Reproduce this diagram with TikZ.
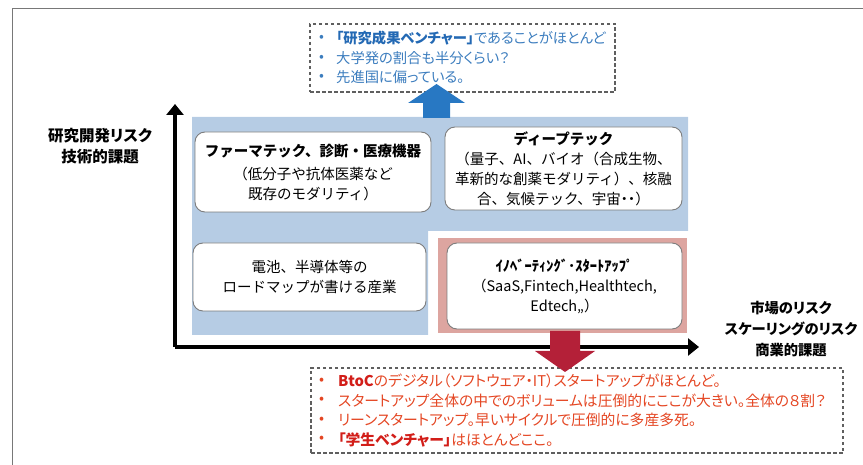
\documentclass[tikz,border=0pt]{standalone}
\usepackage{fontspec}
\setmainfont{Noto Sans CJK JP}
\newfontfamily\pfont[RawFeature=+palt]{Noto Sans CJK JP}
\usetikzlibrary{arrows.meta}
\definecolor{framegray}{RGB}{120,120,120}
\definecolor{boxgray}{RGB}{125,125,125}
\definecolor{dashgray}{RGB}{95,95,95}
\definecolor{bluearea}{RGB}{182,204,228}
\definecolor{pinkarea}{RGB}{221,165,160}
\definecolor{bluetxt}{RGB}{60,125,190}
\definecolor{bluebold}{RGB}{35,105,180}
\definecolor{redtxt}{RGB}{228,70,35}
\definecolor{redbold}{RGB}{210,30,25}
\definecolor{bluearrow}{RGB}{40,120,195}
\definecolor{redarrow}{RGB}{180,32,56}
\tikzset{
  rbox/.style={draw=boxgray, line width=0.9pt, fill=white, rounded corners=10pt,
    align=center, inner sep=0pt, font=\fontsize{14.5}{20}\selectfont},
  dbox/.style={draw=dashgray, line width=1.3pt, dash pattern=on 3.5pt off 2.5pt, inner sep=0pt},
  btxt/.style={anchor=west, text=bluetxt, inner sep=0pt, font=\pfont\fontsize{14.3}{17}\selectfont},
  rtxt/.style={anchor=west, text=redtxt, inner sep=0pt, font=\pfont\fontsize{14.8}{17}\selectfont},
  axis/.style={line width=4.5pt, -{Triangle[length=11pt,width=17pt]}},
  axlabel/.style={align=center, inner sep=0pt, font=\pfont\bfseries\fontsize{15.5}{21}\selectfont},
  axlabelr/.style={align=center, inner sep=0pt, font=\pfont\bfseries\fontsize{14.3}{21}\selectfont},
}
\begin{document}
\begin{tikzpicture}[x=1pt,y=-1pt]
\useasboundingbox (0,0) rectangle (863,465);
% frame
\draw[framegray, line width=1pt] (12,465) -- (12,9) -- (863,9);
% background areas
\fill[bluearea] (192,117) -- (688,117) -- (688,231) -- (428,231) -- (428,335) -- (192,335) -- cycle;
\fill[pinkarea] (438,238) rectangle (687,333);
% boxes
\node[rbox, minimum width=236pt, minimum height=80pt] (pharma) at (313,172)
  {{\bfseries ファーマテック、診断・医療機器}\\[3pt]（低分子や抗体医薬など\\既存のモダリティ）};
\node[rbox, minimum width=237pt, minimum height=83pt] (deep) at (563.5,168.5)
  {{\bfseries ディープテック}\\（量子、AI、バイオ（合成生物、\\革新的な創薬モダリティ）、核融\\合、気候テック、宇宙{\pfont ・・}）};
\node[rbox, minimum width=233pt, minimum height=68pt] (battery) at (309.5,277)
  {電池、半導体等の\\ロードマップが書ける産業};
\node[rbox, minimum width=235pt, minimum height=86pt] (innov) at (564.5,286)
  {{\bfseries ｲﾉﾍﾞｰﾃｨﾝｸﾞ･ｽﾀｰﾄｱｯﾌﾟ}\\（SaaS,Fintech,Healthtech,\\Edtech,,）};
% axes
\coordinate (O) at (175,347);
\coordinate (ytip) at (175,104);
\coordinate (xtip) at (699,347);
\draw[axis] (O) -- (ytip);
\draw[axis] (O) -- (xtip);
% axis labels
\node[axlabel] (ylab) at (100,146.5) {研究開発リスク\\技術的課題};
\node[axlabelr] (xlab) at (791,329) {市場のリスク\\スケーリングのリスク\\商業的課題};
% top dashed box
\node[dbox, minimum width=305pt, minimum height=68pt] (topbox) at (462.5,58) {};
\node[btxt] (t1b) at (319,38) {•};
\node[btxt] (t1) at (336,38) {{\bfseries\color{bluebold}「研究成果ベンチャー」}であることがほとんど};
\node[btxt] (t2b) at (319,58) {•};
\node[btxt] (t2) at (336,58) {大学発の割合も半分くらい？};
\node[btxt] (t3b) at (319,77) {•};
\node[btxt] (t3) at (336,77) {先進国に偏っている。};
% bottom dashed box
\node[dbox, minimum width=532pt, minimum height=85pt] (botbox) at (577,410.5) {};
\node[rtxt] (b1b) at (319,381) {•};
\node[rtxt] (b1) at (338,381) {{\bfseries\color{redbold}BtoC}のデジタル（ソフトウェア・IT）スタートアップがほとんど。};
\node[rtxt] (b2b) at (319,400.5) {•};
\node[rtxt] (b2) at (338,400.5) {スタートアップ全体の中でのボリュームは圧倒的にここが大きい。全体の８割？};
\node[rtxt] (b3b) at (319,420) {•};
\node[rtxt] (b3) at (338,420) {リーンスタートアップ。早いサイクルで圧倒的に多産多死。};
\node[rtxt] (b4b) at (319,439.5) {•};
\node[rtxt] (b4) at (338,439.5) {{\bfseries\color{redbold}「学生ベンチャー」}はほとんどここ。};
% blue up arrow
\fill[bluearrow] (423,118) -- (423,103) -- (408,103) -- (436.5,84) -- (465,103) -- (450,103) -- (450,118) -- cycle;
% red down arrow
\fill[redarrow] (550,331) -- (580,331) -- (580,351) -- (595,351) -- (565,372) -- (535,351) -- (550,351) -- cycle;
\end{tikzpicture}
\end{document}
